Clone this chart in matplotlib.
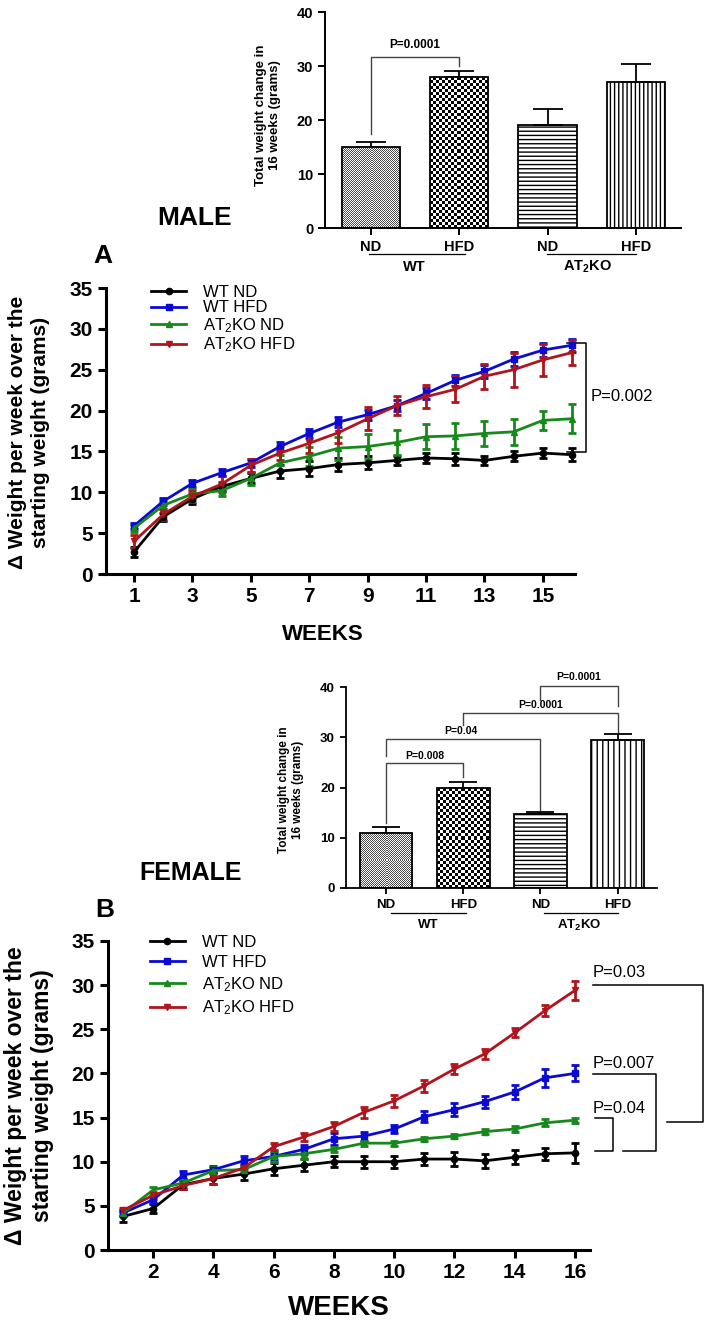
import numpy as np
import matplotlib.pyplot as plt

plt.rcParams['font.family'] = ['Liberation Sans', 'DejaVu Sans']
plt.rcParams['mathtext.fontset'] = 'custom'
plt.rcParams['mathtext.rm'] = 'Liberation Sans'
plt.rcParams['mathtext.it'] = 'Liberation Sans'
plt.rcParams['mathtext.bf'] = 'Liberation Sans:bold'
plt.rcParams['hatch.linewidth'] = 1.0

# ---- datos ----
weeks = np.arange(1, 17)
series_labels = ['WT ND', 'WT HFD', 'AT$_2$KO ND', 'AT$_2$KO HFD']
colors = ['black', '#0a0ad2', '#17881b', '#b0141c']
markers = ['o', 's', '^', 'v']

# machos
wt_nd_m = [2.7, 7.0, 9.2, 10.7, 11.7, 12.6, 12.9, 13.4, 13.6, 13.9, 14.2, 14.1, 13.9, 14.4, 14.8, 14.6]
wt_nd_m_err = [0.6, 0.5, 0.6, 0.6, 0.6, 0.8, 0.9, 0.8, 0.8, 0.6, 0.6, 0.7, 0.6, 0.6, 0.6, 0.8]
wt_hfd_m = [5.9, 8.9, 11.1, 12.4, 13.6, 15.6, 17.2, 18.6, 19.5, 20.6, 22.1, 23.7, 24.8, 26.3, 27.4, 28.0]
wt_hfd_m_err = [0.4, 0.4, 0.4, 0.4, 0.5, 0.5, 0.5, 0.6, 0.6, 0.7, 0.7, 0.7, 0.8, 0.9, 0.9, 0.8]
ko_nd_m = [5.6, 8.4, 9.8, 10.2, 11.7, 13.6, 14.4, 15.4, 15.6, 16.1, 16.8, 16.9, 17.2, 17.4, 18.8, 19.0]
ko_nd_m_err = [0.4, 0.5, 0.6, 0.6, 0.8, 1.0, 1.2, 1.4, 1.5, 1.5, 1.5, 1.6, 1.5, 1.6, 1.2, 1.8]
ko_hfd_m = [4.0, 7.3, 9.5, 11.0, 13.3, 14.8, 16.0, 17.3, 19.0, 20.6, 21.7, 22.6, 24.2, 25.0, 26.2, 27.1]
ko_hfd_m_err = [0.8, 0.7, 0.7, 1.0, 0.8, 0.9, 1.2, 1.3, 1.4, 1.2, 1.4, 1.6, 1.5, 2.1, 2.0, 1.5]

# hembras
wt_nd_f = [3.8, 4.7, 7.4, 8.1, 8.6, 9.2, 9.6, 10.0, 10.0, 10.0, 10.3, 10.3, 10.1, 10.5, 10.9, 11.0]
wt_nd_f_err = [0.6, 0.5, 0.5, 0.6, 0.7, 0.7, 0.7, 0.6, 0.7, 0.7, 0.7, 0.8, 0.8, 0.8, 0.7, 1.1]
wt_hfd_f = [4.2, 5.7, 8.5, 9.1, 10.1, 10.6, 11.4, 12.6, 12.9, 13.7, 15.1, 15.9, 16.8, 17.9, 19.5, 20.0]
wt_hfd_f_err = [0.3, 0.4, 0.5, 0.4, 0.5, 0.4, 0.5, 0.7, 0.5, 0.5, 0.6, 0.7, 0.7, 0.8, 1.0, 0.9]
ko_nd_f = [4.2, 6.8, 7.6, 9.0, 9.1, 10.6, 10.9, 11.4, 12.1, 12.1, 12.6, 12.9, 13.4, 13.7, 14.4, 14.7]
ko_nd_f_err = [0.3, 0.3, 0.4, 0.4, 0.4, 0.6, 0.6, 0.3, 0.3, 0.3, 0.2, 0.2, 0.3, 0.3, 0.4, 0.3]
ko_hfd_f = [4.5, 6.2, 7.3, 8.1, 9.3, 11.7, 12.8, 14.0, 15.6, 16.9, 18.6, 20.5, 22.2, 24.6, 27.1, 29.4]
ko_hfd_f_err = [0.3, 0.4, 0.4, 0.6, 0.4, 0.4, 0.5, 0.5, 0.6, 0.7, 0.7, 0.6, 0.6, 0.5, 0.6, 1.1]

# barras (cambio total en 16 semanas)
bar_labels = ['ND', 'HFD', 'ND', 'HFD']
male_total = [15, 28, 19, 27]
male_total_err = [1.0, 1.0, 3.0, 3.4]
female_total = [11, 20, 14.8, 29.4]
female_total_err = [1.1, 1.0, 0.3, 1.2]

W, H = 707, 1324
fig = plt.figure(figsize=(W / 100, H / 100), dpi=100)


def px_axes(left, top, right, bottom):
    return fig.add_axes([left / W, 1 - bottom / H, (right - left) / W, (bottom - top) / H])


def style(ax, lw, tlen):
    for s in ['top', 'right']:
        ax.spines[s].set_visible(False)
    for s in ['left', 'bottom']:
        ax.spines[s].set_linewidth(lw)
    ax.tick_params(width=lw, length=tlen, direction='out')


def checker(ax, bar, cell, dark):
    # relleno tipo tablero, recortado a la barra
    bb = bar.get_window_extent()
    w, h = int(round(bb.width)), int(round(bb.height))
    yy, xx = np.mgrid[0:h, 0:w]
    pat = ((xx // cell + yy // cell) % 2).astype(float)
    pat = dark + (1 - dark) * pat
    x0, y0 = bar.get_x(), bar.get_y()
    im = ax.imshow(pat, cmap='gray', vmin=0, vmax=1,
                   extent=[x0, x0 + bar.get_width(), y0, y0 + bar.get_height()],
                   interpolation='nearest', aspect='auto', origin='lower', zorder=1.5)
    im.set_clip_path(bar)


def bar_inset(ax, vals, errs, width, hatches, fs, capsize):
    x = np.arange(len(vals))
    ax.set_xlim(-0.52, 3.51)
    ax.set_ylim(0, 40)
    bars = ax.bar(x, vals, width=width, color='none', edgecolor='black', linewidth=1.3, zorder=2)
    ax.errorbar(x, vals, yerr=[np.zeros(len(errs)), errs], fmt='none', ecolor='black',
                elinewidth=1.3, capsize=capsize, capthick=1.3, zorder=1)
    checker(ax, bars[0], 1, 0.3)
    checker(ax, bars[1], 3, 0.0)
    for b, hch in zip(bars[2:], hatches):
        b.set_hatch(hch)
    ax.set_xlim(-0.52, 3.51)
    ax.set_ylim(0, 40)
    ax.set_yticks([0, 10, 20, 30, 40])
    ax.set_xticks(x)
    ax.set_xticklabels(bar_labels, fontsize=fs, fontweight='bold')
    for t in ax.get_yticklabels():
        t.set_fontsize(fs)
        t.set_fontweight('bold')
    return x


def pbracket(ax, x1, x2, y1, ytop, y2, text, fs, ty, tx=None, color='#444444', lw=1.0):
    ax.plot([x1, x1, x2, x2], [y1, ytop, ytop, y2], color=color, lw=lw, clip_on=False)
    ax.text((x1 + x2) / 2 if tx is None else tx, ty, text, ha='center', va='center',
            fontsize=fs, fontweight='bold', clip_on=False)


def group_labels(ax, y_line, y_text, fs, spans):
    tr = ax.get_xaxis_transform()
    for (a, b), lab, xc in spans:
        ax.plot([a, b], [y_line, y_line], color='black', lw=0.9, transform=tr, clip_on=False)
        ax.text(xc, y_text, lab, ha='center', va='center', fontsize=fs, fontweight='bold',
                transform=tr)


def line_panel(ax, data, errs):
    handles = []
    for v, e, c, m, lab in zip(data, errs, colors, markers, series_labels):
        ax.errorbar(weeks, v, yerr=e, fmt='none', ecolor=c, elinewidth=2, capsize=3.2,
                    capthick=2, zorder=3, clip_on=False)
        ln, = ax.plot(weeks, v, color=c, lw=2, marker=m, ms=4.5, label=lab, zorder=4,
                      clip_on=False)
        handles.append(ln)
    ax.set_ylim(0, 35)
    ax.set_yticks(np.arange(0, 36, 5))
    for t in ax.get_yticklabels() + ax.get_xticklabels():
        t.set_fontweight('bold')
        t.set_fontsize(15)
    return handles


# ===== MALE inset =====
axm = px_axes(325, 12, 681, 228)
style(axm, 1.4, 5)
bar_inset(axm, male_total, male_total_err, 0.66, ['----', '||||'], 10.5, 11)
pbracket(axm, 0, 1, 17.5, 31.7, 30.0, 'P=0.0001', 8.5, 33.9)
group_labels(axm, -0.12, -0.18, 10.5,
             [((-0.02, 1.06), 'WT', 0.49), ((1.99, 3.0), 'AT$_\\mathbf{2}$KO', 2.45)])
fig.text(268 / W, 1 - 115 / H, 'Total weight change in\n16 weeks (grams)', rotation=90,
         ha='center', va='center', fontsize=9.5, fontweight='bold', linespacing=1.15)
fig.text(195 / W, 1 - 218 / H, 'MALE', ha='center', va='center', fontsize=19, fontweight='bold')

# ===== Panel A =====
axa = px_axes(106, 288, 575, 574)
style(axa, 2.2, 6)
axa.set_xlim(0.04, 16.1)
axa.set_xticks(np.arange(1, 16, 2))
ha = line_panel(axa, [wt_nd_m, wt_hfd_m, ko_nd_m, ko_hfd_m],
                [wt_nd_m_err, wt_hfd_m_err, ko_nd_m_err, ko_hfd_m_err])
axa.legend(handles=ha, loc='upper left', bbox_to_anchor=(0.096, 1.012), frameon=False,
           fontsize=12, handlelength=2.1, handletextpad=1.0, labelspacing=0.05,
           borderpad=0, borderaxespad=0)
axa.plot([15.83, 16.48, 16.48, 15.83], [28.3, 28.3, 14.9, 14.9], color='black', lw=1.1,
         clip_on=False)
axa.text(16.62, 21.7, 'P=0.002', ha='left', va='center', fontsize=12, clip_on=False)
fig.text(323 / W, 1 - 634 / H, 'WEEKS', ha='center', va='center', fontsize=16,
         fontweight='bold')
fig.text(103 / W, 1 - 256 / H, 'A', ha='center', va='center', fontsize=19, fontweight='bold')
fig.text(29 / W, 1 - 432 / H, '\u0394 Weight per week over the\nstarting weight (grams)',
         rotation=90, ha='center', va='center', fontsize=15, fontweight='bold',
         linespacing=1.25)

# ===== FEMALE inset =====
axf = px_axes(346, 687, 657, 888)
style(axf, 1.3, 4.5)
bar_inset(axf, female_total, female_total_err, 0.68, ['----', '|||'], 9.5, 10)
pbracket(axf, 0, 1, 13.0, 24.8, 22.0, 'P=0.008', 7.5, 26.2)
pbracket(axf, 0, 2, 26.2, 29.6, 15.6, 'P=0.04', 7.5, 31.2, tx=0.97)
pbracket(axf, 1, 3, 32.4, 34.8, 31.0, 'P=0.0001', 7.5, 36.4)
pbracket(axf, 2, 3, 37.4, 40.2, 36.2, 'P=0.0001', 7.5, 42.0)
group_labels(axf, -0.125, -0.185, 9.5,
             [((0.06, 1.03), 'WT', 0.55), ((2.04, 3.01), 'AT$_\\mathbf{2}$KO', 2.5)])
fig.text(291 / W, 1 - 790 / H, 'Total weight change in\n16 weeks (grams)', rotation=90,
         ha='center', va='center', fontsize=8.5, fontweight='bold', linespacing=1.15)
fig.text(191 / W, 1 - 873 / H, 'FEMALE', ha='center', va='center', fontsize=18,
         fontweight='bold')

# ===== Panel B =====
axb = px_axes(108, 941, 590, 1250)
style(axb, 2.2, 6)
axb.set_xlim(0.5, 16.5)
axb.set_xticks(np.arange(2, 17, 2))
hb = line_panel(axb, [wt_nd_f, wt_hfd_f, ko_nd_f, ko_hfd_f],
                [wt_nd_f_err, wt_hfd_f_err, ko_nd_f_err, ko_hfd_f_err])
axb.legend(handles=hb, loc='upper left', bbox_to_anchor=(0.087, 1.02), frameon=False,
           fontsize=12, handlelength=2.1, handletextpad=1.0, labelspacing=0.3,
           borderpad=0, borderaxespad=0)
# corchetes de significancia
axb.plot([16.6, 20.24, 20.24, 19.07], [30.0, 30.0, 14.45, 14.45], color='black', lw=1.1,
         clip_on=False)
axb.plot([16.6, 18.7, 18.7, 17.58], [19.9, 19.9, 11.2, 11.2], color='black', lw=1.1,
         clip_on=False)
axb.plot([16.68, 17.28, 17.28, 16.68], [14.9, 14.9, 11.2, 11.2], color='black', lw=1.1,
         clip_on=False)
axb.text(16.58, 31.4, 'P=0.03', ha='left', va='center', fontsize=12, clip_on=False)
axb.text(16.6, 21.1, 'P=0.007', ha='left', va='center', fontsize=12, clip_on=False)
axb.text(16.58, 16.0, 'P=0.04', ha='left', va='center', fontsize=12, clip_on=False)
fig.text(339 / W, 1 - 1308 / H, 'WEEKS', ha='center', va='center', fontsize=20,
         fontweight='bold')
fig.text(105 / W, 1 - 910 / H, 'B', ha='center', va='center', fontsize=19, fontweight='bold')
fig.text(29 / W, 1 - 1096 / H, '\u0394 Weight per week over the\nstarting weight (grams)',
         rotation=90, ha='center', va='center', fontsize=16.5, fontweight='bold',
         linespacing=1.2)

fig.savefig('out.png', dpi=100)
